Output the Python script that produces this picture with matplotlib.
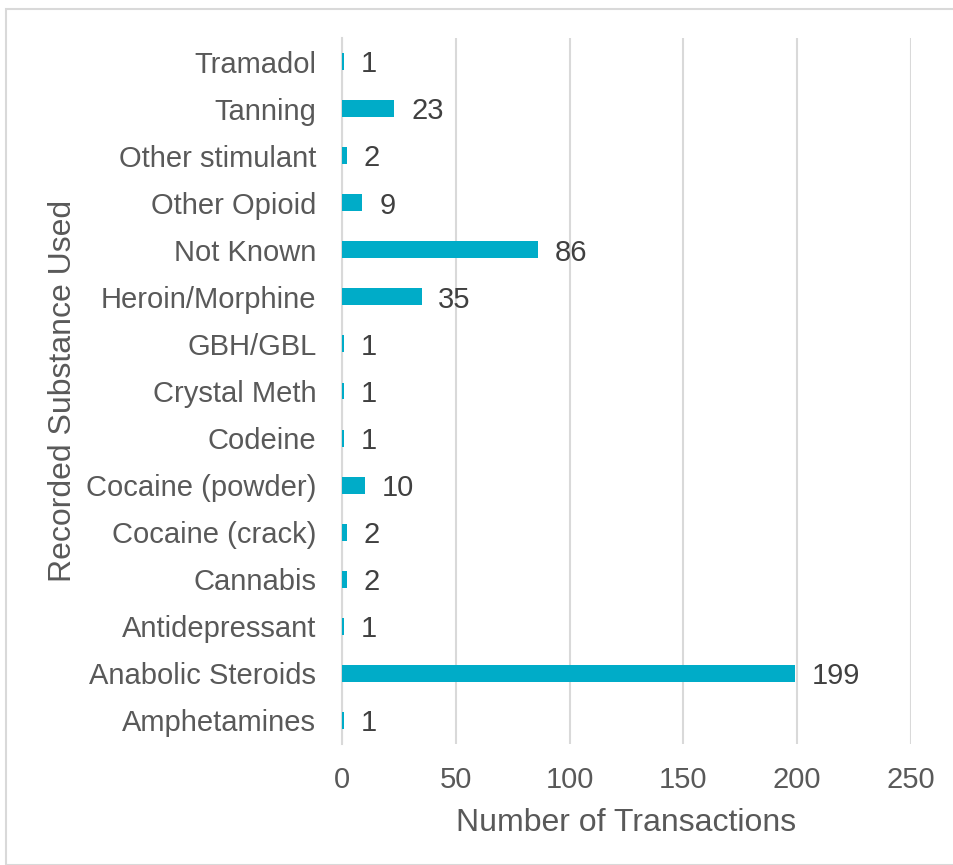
import matplotlib.pyplot as plt
import numpy as np
from matplotlib.patches import Rectangle

plt.rcParams['font.family'] = ['Liberation Sans', 'DejaVu Sans']

# data (bottom to top)
substances = ['Amphetamines', 'Anabolic Steroids', 'Antidepressant', 'Cannabis',
              'Cocaine (crack)', 'Cocaine (powder)', 'Codeine', 'Crystal Meth',
              'GBH/GBL', 'Heroin/Morphine', 'Not Known', 'Other Opioid',
              'Other stimulant', 'Tanning', 'Tramadol']
transactions = [1, 199, 1, 2, 2, 10, 1, 1, 1, 35, 86, 9, 2, 23, 1]

bar_color = '#00ACC8'
text_color = '#595959'
grid_color = '#D9D9D9'

fig = plt.figure(figsize=(9.54, 8.65), dpi=100)
fig.patches.append(Rectangle((6 / 954, 0), 1, 1 - 9 / 865, transform=fig.transFigure,
                             fill=False, edgecolor=grid_color, linewidth=1.5))
ax = fig.add_axes([342 / 954, 1 - 744 / 865, (911 - 342) / 954, (744 - 38) / 865])

y = np.arange(len(substances))
ax.barh(y, transactions, height=0.36, color=bar_color, zorder=3)
for yi, v in zip(y, transactions):
    ax.annotate(str(v), (v, yi), xytext=(12, -2), textcoords='offset points',
                va='center', ha='left', fontsize=21, color='#404040')

ax.set_xlim(0, 250)
ax.set_ylim(-0.5, len(substances) - 0.5)
ax.set_xticks(np.arange(0, 251, 50))
ax.set_yticks(y)
ax.set_yticklabels(substances)
ax.tick_params(axis='both', length=0, labelsize=21, colors=text_color)
ax.tick_params(axis='y', pad=18.5)
ax.tick_params(axis='x', pad=16)
ax.grid(True, axis='x', color=grid_color, linewidth=1.5, zorder=0)
for s in ['top', 'right', 'bottom']:
    ax.spines[s].set_visible(False)
ax.spines['left'].set_color(grid_color)
ax.spines['left'].set_linewidth(1.5)

ax.set_xlabel('Number of Transactions', fontsize=23, color=text_color, labelpad=10)
ax.set_ylabel('Recorded Substance Used', fontsize=23, color=text_color, labelpad=6)

fig.savefig('out.png', dpi=100)
